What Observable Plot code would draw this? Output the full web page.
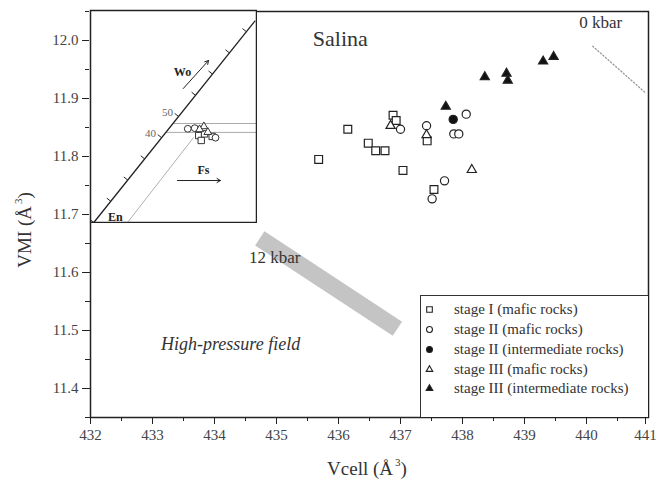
<!DOCTYPE html>
<html><head><meta charset="utf-8">
<script src="https://cdn.jsdelivr.net/npm/d3@7"></script>
<script src="https://cdn.jsdelivr.net/npm/@observablehq/plot@0.6"></script>
<style>
body{margin:0;background:#fff;}
#wrap{position:relative;width:658px;height:487px;font-family:"Liberation Serif","Times New Roman",serif;color:#333;overflow:hidden;}
#wrap > svg{position:absolute;left:0;top:0;}
#wrap svg text{font-family:"Liberation Serif","Times New Roman",serif;}
.lbl{position:absolute;white-space:nowrap;font-size:19px;color:#333;}
.lbl sup{font-size:11px;vertical-align:9px;margin-left:2px;}
#legend{position:absolute;left:420px;top:295px;width:227px;height:121px;border:1.3px solid #333;border-right:none;border-bottom:none;background:#fff;font-size:15px;color:#333;}
#legend .row{position:absolute;left:0;height:20px;display:flex;align-items:center;}
#legend .row svg{margin-left:2px;margin-right:19px;}
</style></head><body><div id="wrap"></div>
<script>
// ---- data ----
const stageIMafic = [[435.68,11.795],[436.15,11.847],[436.48,11.823],[436.60,11.810],[436.75,11.810],[436.88,11.871],[436.93,11.862],[437.04,11.776],[437.43,11.827],[437.54,11.743]];
const stageIIMafic = [[437.00,11.847],[437.42,11.853],[437.86,11.839],[437.94,11.839],[438.06,11.873],[437.71,11.758],[437.51,11.727]];
const stageIIInter = [[437.85,11.864]];
const stageIIIMafic = [[436.84,11.853],[437.42,11.837],[438.15,11.777]];
const stageIIIInter = [[437.73,11.886],[438.36,11.937],[438.71,11.943],[438.73,11.931],[439.30,11.964],[439.47,11.972]];
const seriesNames = ["stage I (mafic rocks)","stage II (mafic rocks)","stage II (intermediate rocks)","stage III (mafic rocks)","stage III (intermediate rocks)"];
const isobar12 = [[434.73,11.659],[436.95,11.503]];
const isobar0 = [[440.10,11.990],[440.95,11.910]];
const annotations = [
  {text:"Salina", x:436.03, y:12.003, size:22, style:"normal"},
  {text:"0 kbar", x:440.23, y:12.031, size:17, style:"normal"},
  {text:"12 kbar", x:434.97, y:11.625, size:17, style:"normal"},
  {text:"High-pressure field", x:434.26, y:11.477, size:18, style:"italic"}
];
const xMajor = [432,433,434,435,436,437,438,439,440];
const xLast = [441];
const xMinor = [432.5,433.5,434.5,435.5,436.5,437.5,438.5,439.5,440.5];
const yMajor = [11.4,11.5,11.6,11.7,11.8,11.9,12.0];
const yMinor = [11.35,11.45,11.55,11.65,11.75,11.85,11.95,12.05];
// inset (pyroxene quadrilateral corner): x = Fs-like, y = Wo (%)
const insetJoin = [[2,0],[99,95]];
const insetTickValues = [0,10,20,30,40,50,60,70,80,90];
const insetTickLabels = [[40,"40"],[50,"50"]];
const insetLevels = [42.5,46.7];
const insetGuide = [[22.3,0],[62,40]];
const insetSquares = [[65.2,41.0],[66.7,38.7],[73.3,40.6],[68.7,41.8]];
const insetCircles = [[58.6,44.2],[62.8,44.5],[75.3,40.0]];
const insetTriangles = [[68.3,45.3],[70.7,42.6],[65.7,43.9]];
const insetArrows = [{x1:55.9,y1:63.2,x2:71.1,y2:76.4},{x1:52.4,y1:19.8,x2:78.3,y2:19.8}];
const insetNames = [{t:"Wo",x:55.4,y:70.8},{t:"Fs",x:68,y:24.5},{t:"En",x:15,y:2.6}];

const serif = "Liberation Serif, Times New Roman, serif";
const styles = [
  {data:stageIMafic, symbol:"square", fill:"white", r:4.4},
  {data:stageIIMafic, symbol:"circle", fill:"white", r:4.1},
  {data:stageIIInter, symbol:"circle", fill:"#111", r:4.1},
  {data:stageIIIMafic, symbol:"triangle", fill:"white", r:3.4},
  {data:stageIIIInter, symbol:"triangle", fill:"#111", r:3.4}
];
const wrap = document.getElementById("wrap");

const axisText = {fontSize:15, fontFamily:serif, fontVariant:"normal", label:null, stroke:"#222", fill:"#444"};
const main = Plot.plot({
  width:658, height:487, marginLeft:90, marginRight:10, marginTop:11, marginBottom:70,
  x:{domain:[432,441]}, y:{domain:[11.35,12.05]},
  style:{fontFamily:serif, color:"#333", background:"white", overflow:"visible"},
  marks:[
    Plot.line(isobar12, {x:d=>d[0], y:d=>d[1], stroke:"#c4c4c4", strokeWidth:17, strokeLinecap:"butt"}),
    Plot.line(isobar0, {x:d=>d[0], y:d=>d[1], stroke:"#9a9a9a", strokeWidth:1.3, strokeDasharray:"1.2,2.2"}),
    ...styles.map(s => Plot.dot(s.data, {x:d=>d[0], y:d=>d[1], symbol:s.symbol, r:s.r, fill:s.fill, stroke:"#222", strokeWidth:1.2})),
    Plot.text(annotations.filter(a=>a.style==="normal"), {x:"x", y:"y", text:"text", fontSize:d=>d.size, fill:"#333", fontFamily:serif}),
    Plot.text(annotations.filter(a=>a.style==="italic"), {x:"x", y:"y", text:"text", fontSize:18, fontStyle:"italic", fill:"#333", fontFamily:serif}),
    Plot.axisX({...axisText, ticks:xMajor, tickSize:7, tickPadding:5, tickFormat:d=>String(d)}),
    Plot.axisX({...axisText, ticks:xLast, tickSize:7, tickPadding:5, tickFormat:d=>String(d), dx:-3}),
    Plot.axisX({ticks:xMinor, tickSize:4, label:null, stroke:"#222", tickFormat:()=>""}),
    Plot.axisY({...axisText, ticks:yMajor, tickSize:8, tickPadding:4, tickFormat:d3.format(".1f")}),
    Plot.axisY({ticks:yMinor, tickSize:5, label:null, stroke:"#222", tickFormat:()=>""}),
    Plot.frame({stroke:"#222", strokeWidth:1.5})
  ]
});
wrap.appendChild(main);

// inset
const iw = 168, ih = 214;
const sx = 166/100, sy = 212/100; // px per unit
const jx = w => insetJoin[0][0] + (insetJoin[1][0]-insetJoin[0][0]) * w / insetJoin[1][1];
const dirPx = [(insetJoin[1][0]-insetJoin[0][0])*sx, -(insetJoin[1][1]-insetJoin[0][1])*sy];
const dl = Math.hypot(dirPx[0], dirPx[1]);
const perp = [dirPx[1]/dl, -dirPx[0]/dl]; // up-left in px
const tl = 5;
const inset = Plot.plot({
  width:iw, height:ih, marginLeft:1, marginRight:1, marginTop:1, marginBottom:1,
  x:{domain:[0,100], axis:null}, y:{domain:[0,100], axis:null},
  style:{fontFamily:serif, background:"white", position:"absolute", left:"89px", top:"9px", overflow:"hidden"},
  marks:[
    Plot.line(insetGuide, {x:d=>d[0], y:d=>d[1], stroke:"#b0b0b0", strokeWidth:1}),
    Plot.link(insetLevels, {x1:w=>jx(w), y1:w=>w, x2:100, y2:w=>w, stroke:"#aaa", strokeWidth:1}),
    Plot.line(insetJoin, {x:d=>d[0], y:d=>d[1], stroke:"#222", strokeWidth:1.3}),
    Plot.link(insetTickValues, {x1:w=>jx(w), y1:w=>w, x2:w=>jx(w)+perp[0]*tl/sx, y2:w=>w-perp[1]*tl/sy, stroke:"#222", strokeWidth:1}),
    Plot.text(insetTickLabels, {x:d=>jx(d[0]), y:d=>d[0], text:d=>d[1], dx:-11, dy:-4, fontSize:11, fill:"#666", fontFamily:serif}),
    Plot.arrow(insetArrows, {x1:"x1", y1:"y1", x2:"x2", y2:"y2", stroke:"#222", strokeWidth:1, headLength:6, bend:0}),
    Plot.text(insetNames, {x:"x", y:"y", text:"t", fontSize:12, fontWeight:"bold", fill:"#222", fontFamily:serif}),
    Plot.dot(insetSquares, {x:d=>d[0], y:d=>d[1], symbol:"square", r:3.6, fill:"white", stroke:"#333", strokeWidth:1}),
    Plot.dot(insetCircles, {x:d=>d[0], y:d=>d[1], symbol:"circle", r:3.4, fill:"white", stroke:"#333", strokeWidth:1}),
    Plot.dot(insetTriangles, {x:d=>d[0], y:d=>d[1], symbol:"triangle", r:2.9, fill:"white", stroke:"#333", strokeWidth:1}),
    Plot.frame({stroke:"#222", strokeWidth:1.5})
  ]
});
wrap.appendChild(inset);

// legend
const legend = document.createElement("div");
legend.id = "legend";
const rowTops = [3,23,43,63,82];
seriesNames.forEach((name,i) => {
  const s = styles[i];
  const row = document.createElement("div");
  row.className = "row";
  row.style.top = rowTops[i] + "px";
  const sym = Plot.plot({
    width:12, height:12, margin:0, x:{domain:[0,1], axis:null}, y:{domain:[0,1], axis:null},
    style:{background:"transparent", overflow:"visible"},
    marks:[Plot.dot([0], {x:0.5, y:0.5, symbol:s.symbol, r:s.r*0.72, fill:s.fill, stroke:"#222", strokeWidth:1.1})]
  });
  row.appendChild(sym);
  const t = document.createElement("span");
  t.textContent = name;
  row.appendChild(t);
  legend.appendChild(row);
});
wrap.appendChild(legend);

// axis titles
const xl = document.createElement("div");
xl.className = "lbl";
xl.innerHTML = "Vcell (Å<sup>3</sup>)";
xl.style.left = "367px"; xl.style.top = "468px"; xl.style.transform = "translate(-50%,-50%)";
wrap.appendChild(xl);
const yl = document.createElement("div");
yl.className = "lbl";
yl.innerHTML = "VMI (Å<sup>3</sup>)";
yl.style.left = "24px"; yl.style.top = "230px"; yl.style.transform = "translate(-50%,-50%) rotate(-90deg)";
wrap.appendChild(yl);
</script></body></html>
